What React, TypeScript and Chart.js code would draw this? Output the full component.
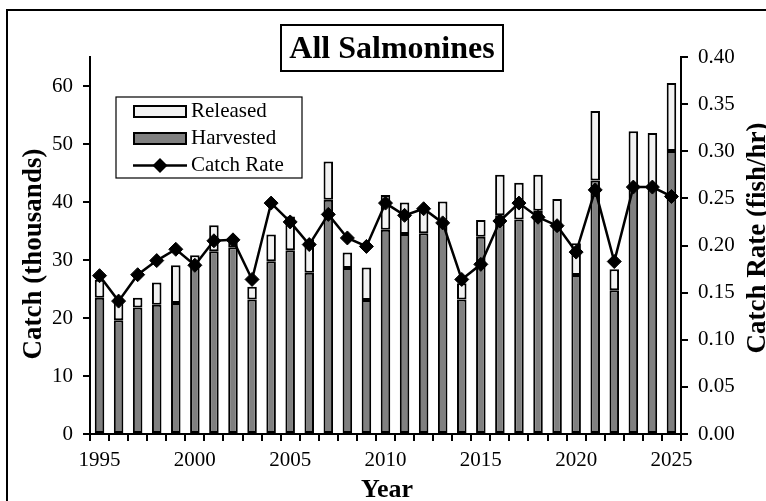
import { useEffect, useRef } from "react";
import { Chart, registerables } from "chart.js";

Chart.register(...registerables);

const years = [
  "1995", "1996", "1997", "1998", "1999", "2000", "2001", "2002", "2003", "2004",
  "2005", "2006", "2007", "2008", "2009", "2010", "2011", "2012", "2013", "2014",
  "2015", "2016", "2017", "2018", "2019", "2020", "2021", "2022", "2023", "2024", "2025",
];

// Catch in thousands
const harvested = [
  23.5, 19.6, 21.8, 22.3, 22.6, 28.9, 31.5, 32.2, 23.2, 29.8,
  31.7, 27.8, 40.4, 28.6, 23.1, 35.2, 34.5, 34.6, 36.0, 23.2,
  34.0, 37.7, 37.0, 38.5, 35.5, 27.4, 43.7, 24.8, 42.5, 42.8, 48.8,
];

const released = [
  3.1, 3.9, 1.7, 3.8, 6.5, 1.9, 4.5, 0.8, 2.2, 4.6,
  5.8, 5.7, 6.6, 2.7, 5.6, 6.0, 5.4, 4.5, 4.1, 2.8,
  2.9, 7.0, 6.3, 6.2, 5.0, 5.5, 12.0, 3.6, 9.7, 9.1, 11.7,
];

// fish per hour
const catchRate = [
  0.168, 0.141, 0.169, 0.184, 0.196, 0.179, 0.205, 0.206, 0.164, 0.245,
  0.225, 0.201, 0.233, 0.208, 0.199, 0.245, 0.232, 0.239, 0.224, 0.164,
  0.180, 0.226, 0.245, 0.230, 0.221, 0.193, 0.259, 0.183, 0.262, 0.262, 0.252,
];

const FONT = "'Liberation Serif', 'Times New Roman', serif";

export default function App() {
  const ref = useRef<HTMLCanvasElement>(null);

  useEffect(() => {
    document.body.style.margin = "0";
    const canvas = ref.current;
    if (!canvas) return;

    const overlay = {
      id: "overlay",
      afterDraw(chart: any) {
        const ctx = chart.ctx as CanvasRenderingContext2D;
        ctx.save();
        ctx.strokeStyle = "#000";
        ctx.fillStyle = "#000";
        // outer frame
        ctx.lineWidth = 2;
        ctx.beginPath();
        ctx.moveTo(7, 501);
        ctx.lineTo(7, 10);
        ctx.lineTo(766, 10);
        ctx.stroke();

        // title box
        ctx.fillStyle = "#fff";
        ctx.fillRect(281, 25, 222, 46);
        ctx.lineWidth = 2;
        ctx.strokeRect(281, 25, 222, 46);
        ctx.fillStyle = "#000";
        ctx.font = `bold 32px ${FONT}`;
        ctx.textAlign = "center";
        ctx.textBaseline = "alphabetic";
        ctx.fillText("All Salmonines", 392, 58);

        // legend
        ctx.fillStyle = "#fff";
        ctx.fillRect(116, 97, 186, 81);
        ctx.lineWidth = 1.2;
        ctx.strokeRect(116, 97, 186, 81);
        ctx.lineWidth = 2;
        ctx.fillStyle = "#f2f2f2";
        ctx.fillRect(134, 106, 52, 11);
        ctx.strokeRect(134, 106, 52, 11);
        ctx.fillStyle = "#808080";
        ctx.fillRect(134, 133, 52, 11);
        ctx.strokeRect(134, 133, 52, 11);
        ctx.lineWidth = 2.5;
        ctx.beginPath();
        ctx.moveTo(133, 165.5);
        ctx.lineTo(187, 165.5);
        ctx.stroke();
        ctx.fillStyle = "#000";
        ctx.beginPath();
        ctx.moveTo(160, 158);
        ctx.lineTo(167.5, 165.5);
        ctx.lineTo(160, 173);
        ctx.lineTo(152.5, 165.5);
        ctx.closePath();
        ctx.fill();
        ctx.font = `21px ${FONT}`;
        ctx.textAlign = "left";
        ctx.textBaseline = "middle";
        ctx.fillText("Released", 191, 111);
        ctx.fillText("Harvested", 191, 138);
        ctx.fillText("Catch Rate", 191, 165);

        // axis titles
        ctx.font = `bold 27px ${FONT}`;
        ctx.textAlign = "center";
        ctx.textBaseline = "middle";
        ctx.save();
        ctx.translate(34, 254);
        ctx.rotate(-Math.PI / 2);
        ctx.fillText("Catch (thousands)", 0, 0);
        ctx.restore();
        ctx.save();
        ctx.translate(758, 238);
        ctx.rotate(-Math.PI / 2);
        ctx.fillText("Catch Rate (fish/hr)", 0, 0);
        ctx.restore();
        ctx.font = `bold 26px ${FONT}`;
        ctx.textBaseline = "alphabetic";
        ctx.fillText("Year", 387, 497);
        ctx.restore();
      },
    };

    const tickFont = { family: FONT, size: 21 };
    const chart = new Chart(canvas, {
      type: "bar",
      data: {
        labels: years,
        datasets: [
          {
            type: "line",
            label: "Catch Rate",
            data: catchRate,
            yAxisID: "y1",
            borderColor: "#000",
            borderWidth: 2.5,
            pointStyle: "rectRot",
            pointRadius: 7,
            pointBackgroundColor: "#000",
            pointBorderColor: "#000",
            pointBorderWidth: 1,
            tension: 0,
            order: 0,
          } as any,
          {
            type: "bar",
            label: "Harvested",
            data: harvested,
            yAxisID: "y",
            stack: "catch",
            backgroundColor: "#808080",
            borderColor: "#000",
            borderWidth: 2,
            borderSkipped: false,
            barPercentage: 0.5,
            categoryPercentage: 1,
            order: 1,
          },
          {
            type: "bar",
            label: "Released",
            data: released,
            yAxisID: "y",
            stack: "catch",
            backgroundColor: "#f2f2f2",
            borderColor: "#000",
            borderWidth: 2,
            borderSkipped: false,
            barPercentage: 0.5,
            categoryPercentage: 1,
            order: 1,
          },
        ],
      },
      options: {
        responsive: false,
        animation: false,
        layout: { padding: { top: 57, left: 0, right: 0, bottom: 0 } },
        plugins: {
          legend: { display: false },
          tooltip: { enabled: false },
          title: { display: false },
        },
        scales: {
          x: {
            stacked: true,
            offset: true,
            grid: {
              offset: true,
              drawOnChartArea: false,
              drawTicks: true,
              tickLength: 7,
              color: "#000",
              lineWidth: 2,
            },
            border: { display: true, color: "#000", width: 2 },
            ticks: {
              autoSkip: false,
              maxRotation: 0,
              minRotation: 0,
              color: "#000",
              font: tickFont,
              padding: 7,
              callback: (_v: any, i: number) =>
                Number(years[i]) % 5 === 0 ? years[i] : "",
            },
            afterFit: (s: any) => {
              s.height = 67;
            },
          },
          y: {
            position: "left",
            stacked: true,
            min: 0,
            max: 65,
            grid: {
              drawOnChartArea: false,
              drawTicks: true,
              tickLength: 7,
              color: "#000",
              lineWidth: 2,
            },
            border: { display: true, color: "#000", width: 2 },
            ticks: {
              stepSize: 10,
              includeBounds: false,
              color: "#000",
              font: tickFont,
              padding: 10,
            },
            afterFit: (s: any) => {
              s.width = 90;
            },
          },
          y1: {
            position: "right",
            min: 0,
            max: 0.4,
            grid: {
              drawOnChartArea: false,
              drawTicks: true,
              tickLength: 7,
              color: "#000",
              lineWidth: 2,
            },
            border: { display: true, color: "#000", width: 2 },
            ticks: {
              stepSize: 0.05,
              color: "#000",
              font: tickFont,
              padding: 10,
              callback: (v: any) => Number(v).toFixed(2),
            },
            afterFit: (s: any) => {
              s.width = 85;
            },
          },
        },
      },
      plugins: [overlay],
    });

    return () => chart.destroy();
  }, []);

  return (
    <div style={{ width: 766, height: 501, position: "relative", background: "#fff" }}>
      <canvas ref={ref} width={766} height={501} style={{ display: "block", width: 766, height: 501 }} />
    </div>
  );
}
